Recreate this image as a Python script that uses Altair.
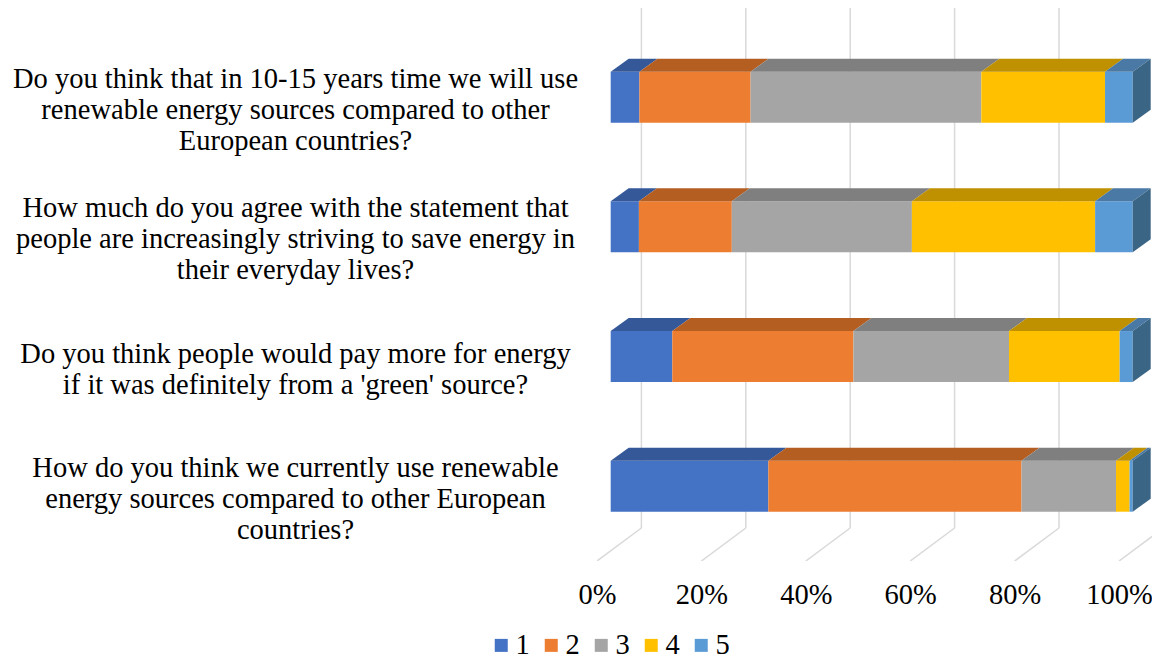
import json
import altair as alt
import pandas as pd

# ---------------- data ----------------
questions = [
    ["Do you think that in 10-15 years time we will use",
     "renewable energy sources compared to other",
     "European countries?"],
    ["How much do you agree with the statement that",
     "people are increasingly striving to save energy in",
     "their everyday lives?"],
    ["Do you think people would pay more for energy",
     "if it was definitely from a 'green' source?"],
    ["How do you think we currently use renewable",
     "energy sources compared to other European",
     "countries?"],
]
responses = ["1", "2", "3", "4", "5"]
share_future = [5.5, 21.3, 44.2, 23.7, 5.3]
share_agree = [5.4, 17.8, 34.5, 35.1, 7.2]
share_pay = [11.8, 34.7, 29.8, 21.2, 2.5]
share_current = [30.2, 48.5, 18.1, 2.6, 0.6]
shares = [share_future, share_agree, share_pay, share_current]
tick_values = [0, 20, 40, 60, 80, 100]

# ---------------- style ----------------
front_colors = ["#4472C4", "#ED7D31", "#A5A5A5", "#FFC000", "#5B9BD5"]
top_colors = ["#355899", "#B55E22", "#7F7F7F", "#BF9000", "#4A79A5"]
side_color = "#3B6585"
grid_color = "#D9D9D9"
FONT = "Liberation Serif"
FS = 28.5
LINE_H = 31

# geometry (pixels -> scale units)
PLOT_W, PLOT_H = 555, 553
PX_PER_PCT = 5.22
ROW_PX = 129.67
X_MIN = -13.7 / PX_PER_PCT
X_MAX = X_MIN + PLOT_W / PX_PER_PCT
Y_TOP = -89.2 / ROW_PX
Y_BOTTOM = Y_TOP + PLOT_H / ROW_PX
HALF_BAR = 25.5 / ROW_PX
DEPTH_Y = 13.0 / ROW_PX
DEPTH_X = 18.0 / PX_PER_PCT
BACK_X = 30.7 / PX_PER_PCT
FLOOR_BACK_Y = (520 - 89.2) / ROW_PX
LABEL_SHIFT = 12.0  # label block centre sits a little below the bar centre

# ---------------- tables ----------------
front_rows, top_rows, side_rows = [], [], []
for i, vals in enumerate(shares):
    start = 0.0
    for r, v in zip(responses, vals):
        end = start + v
        front_rows.append(dict(q=i, resp=r, x=start, x2=end,
                               y=i - HALF_BAR, y2=i + HALF_BAR))
        key = f"{i}-{r}"
        top_rows.append(dict(key=key, resp=r, yy=i - HALF_BAR, xa=start, xb=end))
        top_rows.append(dict(key=key, resp=r, yy=i - HALF_BAR - DEPTH_Y,
                             xa=start + DEPTH_X, xb=end + DEPTH_X))
        start = end
    side_rows.append(dict(q=i, xx=start, ya=i + HALF_BAR, yb=i - HALF_BAR))
    side_rows.append(dict(q=i, xx=start + DEPTH_X, ya=i + HALF_BAR - DEPTH_Y,
                          yb=i - HALF_BAR - DEPTH_Y))

fronts = pd.DataFrame(front_rows)
tops = pd.DataFrame(top_rows)
sides = pd.DataFrame(side_rows)
grid = pd.DataFrame(dict(x=[v + BACK_X for v in tick_values],
                         y=[Y_TOP] * len(tick_values),
                         y2=[FLOOR_BACK_Y] * len(tick_values)))
floor = pd.DataFrame(dict(x=[v + X_MIN for v in tick_values],
                          y=[Y_BOTTOM] * len(tick_values),
                          x2=[v + BACK_X for v in tick_values],
                          y2=[FLOOR_BACK_Y] * len(tick_values)))

# label anchor: first line of each multi-line block sits at the anchor
label_values = [i + (LABEL_SHIFT - (len(q) - 1) * LINE_H / 2) / ROW_PX
                for i, q in enumerate(questions)]

# ---------------- scales / axes ----------------
xs = alt.Scale(domain=[X_MIN, X_MAX], nice=False, zero=False)
ys = alt.Scale(domain=[Y_TOP, Y_BOTTOM], nice=False, zero=False, reverse=True)

label_expr = json.dumps(questions) + "[round(datum.value)]"
ax_x = alt.Axis(values=tick_values, labelExpr="datum.value + '%'", title=None,
                domain=False, ticks=False, tickSize=0, grid=False,
                labelFont=FONT, labelFontSize=FS, labelColor="#000000",
                labelPadding=19, labelOffset=-13.7, labelFlush=False,
                labelOverlap=False, labelBound=False)
ax_y = alt.Axis(values=label_values, labelExpr=label_expr, title=None,
                domain=False, ticks=False, tickSize=0, grid=False,
                labelFont=FONT, labelFontSize=FS, labelColor="#000000",
                labelAlign="center", labelBaseline="middle", labelLineHeight=LINE_H,
                labelPadding=302, labelLimit=0,
                labelFlush=False, labelOverlap=False, labelBound=False)

grid_layer = alt.Chart(grid).mark_rule(color=grid_color, strokeWidth=1.5, clip=True).encode(
    x=alt.X("x:Q", scale=xs, axis=ax_x),
    y=alt.Y("y:Q", scale=ys, axis=ax_y),
    y2="y2:Q",
)
floor_layer = alt.Chart(floor).mark_rule(color=grid_color, strokeWidth=1.5, clip=True).encode(
    x=alt.X("x:Q", scale=xs, axis=ax_x),
    y=alt.Y("y:Q", scale=ys, axis=ax_y),
    x2="x2:Q",
    y2="y2:Q",
)
front_layer = alt.Chart(fronts).mark_rect().encode(
    x=alt.X("x:Q", scale=xs, axis=ax_x),
    x2="x2:Q",
    y=alt.Y("y:Q", scale=ys, axis=ax_y),
    y2="y2:Q",
    color=alt.Color("resp:N", scale=alt.Scale(domain=responses, range=front_colors),
                    legend=alt.Legend(title=None, orient="none", legendX=-110, legendY=623,
                                      direction="horizontal", columns=5,
                                      symbolType="square", symbolSize=169,
                                      symbolStrokeWidth=0, labelFont=FONT,
                                      labelFontSize=FS, labelColor="#000000",
                                      labelOffset=0, columnPadding=7)),
)
top_layer = alt.Chart(tops).mark_area(orient="horizontal").encode(
    y=alt.Y("yy:Q", scale=ys, axis=ax_y),
    x=alt.X("xa:Q", scale=xs, axis=ax_x, stack=None),
    x2="xb:Q",
    detail="key:N",
    color=alt.Color("resp:N", scale=alt.Scale(domain=responses, range=top_colors),
                    legend=None),
)
side_layer = alt.Chart(sides).mark_area(orient="vertical", color=side_color).encode(
    x=alt.X("xx:Q", scale=xs, axis=ax_x),
    y=alt.Y("ya:Q", scale=ys, axis=ax_y, stack=None),
    y2="yb:Q",
    detail="q:N",
)

chart = alt.layer(grid_layer, floor_layer, front_layer, top_layer, side_layer).resolve_scale(
    color="independent"
).properties(
    width=PLOT_W, height=PLOT_H,
    autosize=alt.AutoSizeParams(type="none"),
    padding={"left": 589, "top": 0, "right": 0, "bottom": 98},
    background="white",
).configure_view(stroke=None)

chart.save("out.html", embed_options={"renderer": "svg", "actions": False})
